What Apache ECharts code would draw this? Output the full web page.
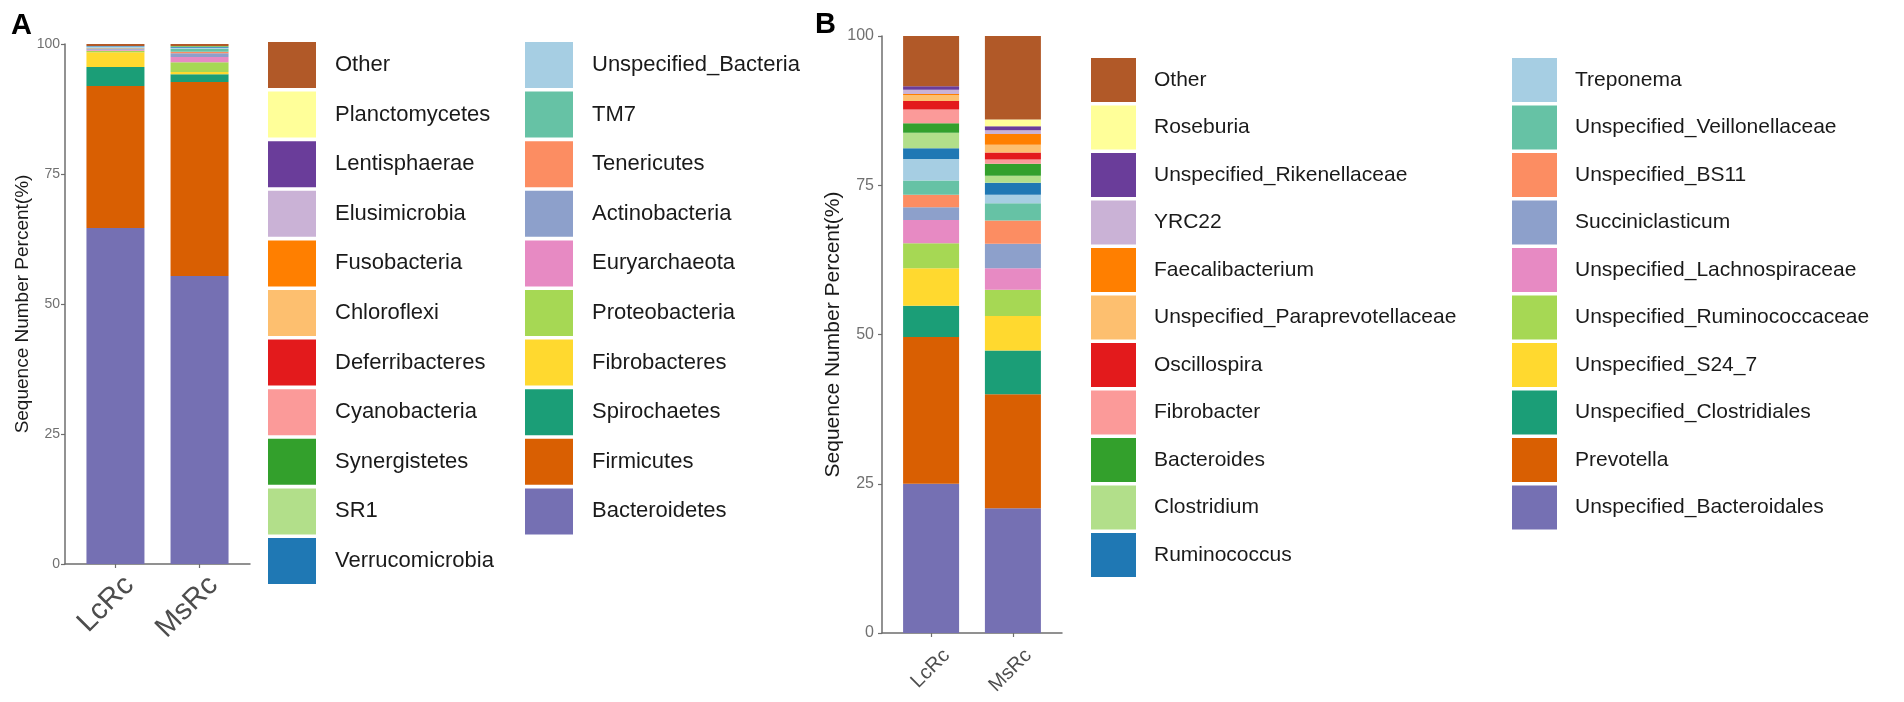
<!DOCTYPE html>
<html><head><meta charset="utf-8">
<script src="https://cdn.jsdelivr.net/npm/echarts@6/dist/echarts.min.js"></script>
<style>html,body{margin:0;padding:0;background:#fff}#c{width:1904px;height:702px}</style>
</head><body><div id="c"></div>
<script>
// ---------- data ----------
const categories = ['LcRc', 'MsRc'];
const yTicks = [0, 25, 50, 75, 100];

// Panel A (phylum), stacking order bottom -> top
const phylumNames = ['Bacteroidetes','Firmicutes','Spirochaetes','Fibrobacteres','Proteobacteria','Euryarchaeota','Actinobacteria','Tenericutes','TM7','Unspecified_Bacteria','Verrucomicrobia','SR1','Synergistetes','Cyanobacteria','Deferribacteres','Chloroflexi','Fusobacteria','Elusimicrobia','Lentisphaerae','Planctomycetes','Other'];
const phylumLcRc = [64.6, 27.3, 3.7, 2.8, 0.3, 0.2, 0.2, 0.1, 0.1, 0.2, 0.1, 0, 0, 0, 0, 0, 0, 0, 0, 0, 0.4];
const phylumMsRc = [55.4, 37.3, 1.5, 0.4, 1.9, 1.0, 0.7, 0.3, 0.6, 0.2, 0.1, 0.1, 0.1, 0, 0, 0, 0, 0, 0, 0, 0.4];

// Panel B (genus), stacking order bottom -> top
const genusNames = ['Unspecified_Bacteroidales','Prevotella','Unspecified_Clostridiales','Unspecified_S24_7','Unspecified_Ruminococcaceae','Unspecified_Lachnospiraceae','Succiniclasticum','Unspecified_BS11','Unspecified_Veillonellaceae','Treponema','Ruminococcus','Clostridium','Bacteroides','Fibrobacter','Oscillospira','Unspecified_Paraprevotellaceae','Faecalibacterium','YRC22','Unspecified_Rikenellaceae','Roseburia','Other'];
const genusLcRc = [25.0, 24.6, 5.2, 6.3, 4.2, 3.9, 2.1, 2.1, 2.4, 3.6, 1.8, 2.6, 1.6, 2.3, 1.4, 1.0, 0.2, 0.7, 0.6, 0, 8.4];
const genusMsRc = [20.9, 19.1, 7.3, 5.8, 4.4, 3.6, 4.1, 3.9, 2.9, 1.4, 2.0, 1.2, 2.0, 0.7, 1.2, 1.3, 1.8, 0.6, 0.7, 1.1, 14.0];

// ---------- style ----------
const palette = ['#7570B3','#D95F02','#1B9E77','#FFD92F','#A6D854','#E78AC3','#8DA0CB','#FC8D62','#66C2A5','#A6CEE3','#1F78B4','#B2DF8A','#33A02C','#FB9A99','#E31A1C','#FDBF6F','#FF7F00','#CAB2D6','#6A3D9A','#FFFF99','#B15928'];
const FONT = '"Liberation Sans", Arial, Helvetica, sans-serif';
const AXIS_COL = '#6e6e6e';

// discrete axis with ggplot-style 0.6 expansion: 11 intervals, categories at slots 3 and 8
const SLOTS = 12;
const catSlot = [3, 8];
const slotLabels = Array.from({length: SLOTS}, (_, s) => {
  const k = catSlot.indexOf(s); return k >= 0 ? categories[k] : '';
});
function slotData(vals) {
  const arr = Array(SLOTS).fill(null);
  catSlot.forEach((s, k) => { arr[s] = vals[k]; });
  return arr;
}
const showSlot = (idx, val) => val !== '';

function makeSeries(names, a, b, axisIdx, stack, barWidth) {
  return names.map((n, i) => ({
    name: n, type: 'bar', stack: stack,
    xAxisIndex: axisIdx, yAxisIndex: axisIdx,
    barWidth: barWidth,
    itemStyle: { color: palette[i] },
    emphasis: { disabled: true },
    data: slotData([a[i], b[i]])
  }));
}

function xAxisDef(gridIdx, fontSize, margin, padTop) {
  return {
    type: 'category', gridIndex: gridIdx, boundaryGap: false, data: slotLabels,
    axisLine: { show: true, lineStyle: { color: AXIS_COL, width: 1.5 } },
    axisTick: { show: true, interval: showSlot, length: 4, lineStyle: { color: AXIS_COL, width: 1.2 } },
    axisLabel: { interval: showSlot, rotate: 45, margin: margin, verticalAlign: 'top', padding: [padTop, 0, 0, 0],
                 fontSize: fontSize, color: '#4d4d4d', fontFamily: FONT },
    splitLine: { show: false }
  };
}
function yAxisDef(gridIdx, fontSize, margin, nameSize, nameGap) {
  return {
    type: 'value', gridIndex: gridIdx, min: yTicks[0], max: yTicks[yTicks.length - 1], interval: 25,
    name: 'Sequence Number Percent(%)', nameLocation: 'middle', nameGap: nameGap,
    nameTextStyle: { fontSize: nameSize, color: '#1a1a1a', fontFamily: FONT },
    axisLine: { show: true, lineStyle: { color: AXIS_COL, width: 1.5 } },
    axisTick: { show: true, length: 4, lineStyle: { color: AXIS_COL, width: 1.2 } },
    axisLabel: { margin: margin, fontSize: fontSize, color: '#707070', fontFamily: FONT },
    splitLine: { show: false }
  };
}
function legendDef(names, left, top, sw, sh, gap, fontSize, pad) {
  return {
    orient: 'vertical', left: left, top: top, icon: 'rect', padding: 0,
    itemWidth: sw, itemHeight: sh, itemGap: gap, selectedMode: false,
    data: names,
    textStyle: { fontSize: fontSize, color: '#1a1a1a', fontFamily: FONT, padding: [0, 0, 0, pad] }
  };
}

const phylumRev = phylumNames.slice().reverse();
const genusRev = genusNames.slice().reverse();

const option = {
  animation: false,
  backgroundColor: '#ffffff',
  title: [
    { text: 'A', left: 6, top: 6, textStyle: { fontSize: 29, fontWeight: 'bold', color: '#000', fontFamily: FONT } },
    { text: 'B', left: 810, top: 5, textStyle: { fontSize: 29, fontWeight: 'bold', color: '#000', fontFamily: FONT } }
  ],
  grid: [
    { left: 65, top: 44, width: 185, height: 520 },
    { left: 882, top: 36, width: 180, height: 597 }
  ],
  xAxis: [ xAxisDef(0, 29, 3, 5), xAxisDef(1, 20, 4, 12) ],
  yAxis: [ yAxisDef(0, 14, 5, 19, 31), yAxisDef(1, 16, 8, 21, 29) ],
  legend: [
    legendDef(phylumRev.slice(0, 11), 268, 42, 48, 46, 3.6, 22, 14),
    legendDef(phylumRev.slice(11), 525, 42, 48, 46, 3.6, 22, 14),
    legendDef(genusRev.slice(0, 11), 1091, 58, 45, 44, 3.5, 21, 13),
    legendDef(genusRev.slice(11), 1512, 58, 45, 44, 3.5, 21, 13)
  ],
  series: [].concat(
    makeSeries(phylumNames, phylumLcRc, phylumMsRc, 0, 'A', 58),
    makeSeries(genusNames, genusLcRc, genusMsRc, 1, 'B', 56)
  )
};

const chart = echarts.init(document.getElementById('c'), null, { renderer: 'canvas' });
chart.setOption(option);
</script>
</body></html>
